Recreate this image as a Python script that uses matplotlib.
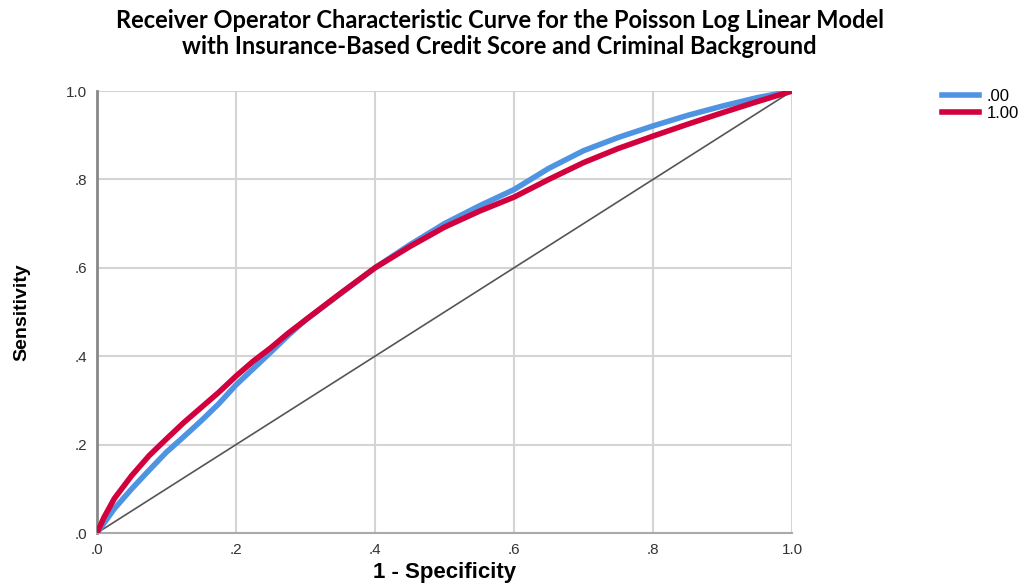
import numpy as np
import matplotlib.pyplot as plt

# ROC curve points (1 - specificity, sensitivity)
fpr = [0.0, 0.01, 0.025, 0.05, 0.075, 0.10, 0.125, 0.15, 0.175, 0.20, 0.225, 0.25, 0.275,
       0.30, 0.35, 0.40, 0.45, 0.50, 0.55, 0.60, 0.65, 0.70, 0.75, 0.80, 0.85, 0.90, 0.95, 1.0]
tpr_00 = [0.0, 0.022, 0.055, 0.100, 0.142, 0.183, 0.218, 0.254, 0.292, 0.335, 0.372, 0.409, 0.447,
          0.482, 0.541, 0.600, 0.652, 0.700, 0.740, 0.777, 0.825, 0.865, 0.895, 0.921, 0.945, 0.966, 0.985, 1.0]
tpr_100 = [0.0, 0.035, 0.078, 0.130, 0.175, 0.213, 0.250, 0.284, 0.318, 0.355, 0.389, 0.419, 0.452,
           0.482, 0.542, 0.600, 0.648, 0.692, 0.728, 0.760, 0.800, 0.838, 0.870, 0.898, 0.925, 0.951, 0.976, 1.0]

ticks = [0.0, 0.2, 0.4, 0.6, 0.8, 1.0]
tick_labels = ['.0', '.2', '.4', '.6', '.8', '1.0']

fig = plt.figure(figsize=(10.26, 5.86), dpi=100)
ax = fig.add_axes([0.0945, 0.0904, 0.6775, 0.7543])

ax.plot([0, 1], [0, 1], color='#555555', lw=1.2, zorder=2)
ax.plot(fpr, tpr_00, color='#4f94e3', lw=4, label='.00', zorder=3)
ax.plot(fpr, tpr_100, color='#d2003c', lw=4, label='1.00', zorder=4)

ax.set_xlim(0, 1)
ax.set_ylim(0, 1)
ax.set_xticks(ticks)
ax.set_xticklabels(tick_labels)
ax.set_yticks(ticks)
ax.set_yticklabels(tick_labels)
ax.tick_params(length=0, labelsize=11, colors='#333333', pad=7)
for lab in ax.get_xticklabels() + ax.get_yticklabels():
    lab.set_family('Liberation Sans')

ax.grid(True, color='#d4d4d4', lw=1.5, zorder=0)
ax.set_axisbelow(True)
for side in ['top', 'right']:
    ax.spines[side].set_visible(False)
ax.spines['left'].set_color('#888888')
ax.spines['left'].set_linewidth(2)
ax.spines['bottom'].set_color('#aaaaaa')
ax.spines['bottom'].set_linewidth(1.5)

ax.set_xlabel('1 - Specificity', fontsize=16, fontweight='bold', family='Liberation Sans', labelpad=4)
ax.set_ylabel('Sensitivity', fontsize=14, fontweight='bold', family='Liberation Sans', labelpad=26)

fig.text(0.487, 0.965, 'Receiver Operator Characteristic Curve for the Poisson Log Linear Model',
         ha='center', va='center', fontsize=17, fontweight='bold', family='Lato')
fig.text(0.487, 0.92, 'with Insurance-Based Credit Score and Criminal Background',
         ha='center', va='center', fontsize=17, fontweight='bold', family='Lato')

fig.legend(loc='upper left', bbox_to_anchor=(0.91, 0.862), frameon=False,
           prop={'family': 'Liberation Sans', 'size': 12}, handlelength=2.2,
           handletextpad=0.5, labelspacing=0.1, borderpad=0)

plt.savefig('out.png', dpi=100)
